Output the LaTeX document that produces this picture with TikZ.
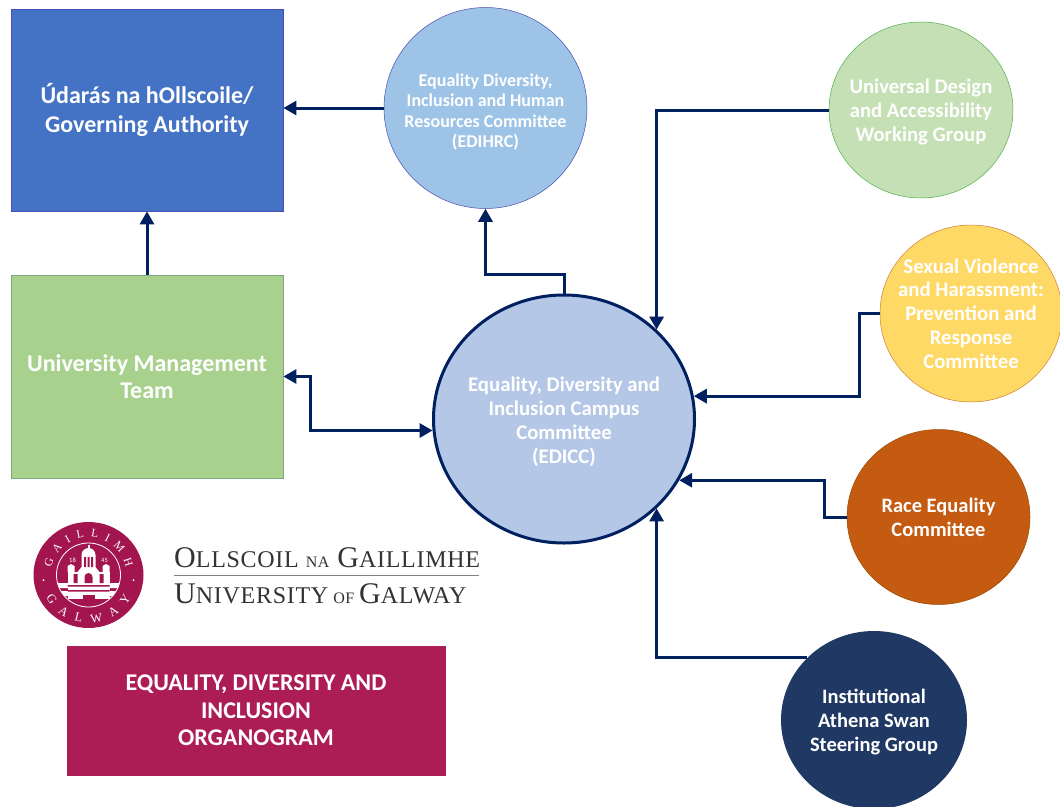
\documentclass[tikz,border=0pt]{standalone}
\usepackage{fontspec}
\setmainfont{Carlito}
\newfontfamily\logofont[LetterSpace=3]{Liberation Serif}
\newfontfamily\sealfont{Liberation Serif}
\usetikzlibrary{arrows.meta,decorations.text,shapes.geometric}
\definecolor{navy}{HTML}{002060}
\definecolor{crim}{HTML}{AD1D55}
\definecolor{logored}{HTML}{A3154F}
\newcommand{\fsz}[2]{\fontsize{#1}{#2}\selectfont}
\newcommand{\dn}[1]{\rule{0pt}{#1pt}}
\tikzset{
  box/.style={draw=#1,line width=0.8pt,inner sep=0pt,align=center,text=white},
  disc/.style={ellipse,inner sep=-45pt,align=center,text=white},
  conn/.style={draw=navy,line width=3pt,-{Triangle[length=13pt,width=14pt]}},
  connb/.style={draw=navy,line width=3pt,{Triangle[length=13pt,width=14pt]}-{Triangle[length=13pt,width=14pt]}},
  logoline/.style={text=black!80,font=\logofont,inner sep=0pt,anchor=base west}
}
\begin{document}
\begin{tikzpicture}[x=1pt,y=-1pt]
\clip (0,0) rectangle (1060,806);
\fill[white] (0,0) rectangle (1060,806);
\node[box=blue!60!black!70,fill={rgb,255:red,68;green,114;blue,196},minimum width=272pt,minimum height=202pt,font=\bfseries\fsz{24}{29}] (gov) at (147,110) {Údarás na hOllscoile/\\Governing Authority};
\node[box=green!30!black!50,fill={rgb,255:red,169;green,209;blue,142},minimum width=272pt,minimum height=203pt,font=\bfseries\fsz{24}{27}] (umt) at (147,376.5) {University Management\\Team};
\node[disc,draw=blue!40!gray,line width=0.5pt,fill={rgb,255:red,157;green,195;blue,230},minimum width=203pt,minimum height=201pt,font=\bfseries\fsz{18}{20.5}] (edihrc) at (485.5,108) {\dn{21}Equality Diversity,\\Inclusion and Human\\Resources Committee\\(EDIHRC)};
\node[disc,draw=green!40!gray,line width=0.5pt,fill={rgb,255:red,197;green,224;blue,180},minimum width=184pt,minimum height=176pt,font=\bfseries\fsz{20.7}{24}] (ud) at (921,110) {\dn{19}Universal Design\\and Accessibility\\Working Group};
\node[disc,draw=orange!60!gray,line width=0.5pt,fill={rgb,255:red,255;green,217;blue,102},minimum width=182pt,minimum height=177pt,font=\bfseries\fsz{20.8}{23.8}] (sv) at (971,313.5) {Sexual Violence\\and Harassment:\\Prevention and\\Response\\Committee};
\node[disc,draw=orange!60!black,line width=0.5pt,fill={rgb,255:red,197;green,90;blue,17},minimum width=183pt,minimum height=175pt,font=\bfseries\fsz{20.5}{24}] (race) at (938.5,517) {Race Equality\\Committee};
\node[disc,fill={rgb,255:red,31;green,56;blue,100},minimum width=186pt,minimum height=178pt,font=\bfseries\fsz{20.5}{24}] (athena) at (874,720) {\dn{19}Institutional\\Athena Swan\\Steering Group};
\node[disc,draw=navy,line width=3pt,fill={rgb,255:red,180;green,199;blue,231},minimum width=261pt,minimum height=248pt,font=\bfseries\fsz{20.8}{24}] (edicc) at (564,419) {\dn{20}Equality, Diversity and\\Inclusion Campus\\Committee\\(EDICC)};
\node[box=crim,fill=crim,minimum width=378pt,minimum height=129pt,font=\bfseries\fsz{24}{27.5}] (title) at (256,710.5) {EQUALITY, DIVERSITY AND\\INCLUSION\\ORGANOGRAM};
% connectors
\draw[conn] (edihrc.west) -- (edihrc.west -| gov.east);
\draw[conn] (umt.north) -- (gov.south);
\draw[connb] (umt.east) -- ++(27,0) |- (edicc.185.8);
\draw[conn] (edicc.north) -- ++(0,-19) -| (edihrc.south);
\draw[conn] (ud.west) -| (edicc.44);
\draw[conn] (sv.west) -- ++(-20,0) |- (edicc.10.5);
\draw[conn] (race.west) -- ++(-22,0) |- (edicc.-28.5);
\draw[conn] (athena.137) -| (edicc.-44);
% logo
\begin{scope}[shift={(88.5,575)},x=1pt,y=1pt]
\node[ellipse,fill=logored,minimum width=110pt,minimum height=106pt,inner sep=0pt] (seal) at (0,0) {};
\path[decorate,decoration={text along path,text align={fit to path},text color=white,text={|\sealfont\fontsize{11.5}{12}\selectfont|GAILLIMH}}] (168:38) arc[start angle=168,end angle=12,radius=38];
\path[decorate,decoration={text along path,text align={fit to path},text color=white,text={|\sealfont\fontsize{12.5}{13}\selectfont|GALWAY}}] (208:48) arc[start angle=208,end angle=332,radius=48];
\fill[white] (-45,-5) circle (1) (45,-5) circle (1);
\begin{scope}
\clip (0,0) circle (32);
\fill[white] (-40,-21) rectangle (40,-16) (-40,-13) rectangle (40,-8);
\end{scope}
\draw[white,line width=0.8pt] (0,0) circle (32);
% building
\fill[white] (-21,-24) rectangle (21,3);
\fill[white] (-21,3) -- (-21,9) -- (-17.5,11) -- (-14,9) -- (-14,3) -- cycle;
\fill[white] (21,3) -- (21,9) -- (17.5,11) -- (14,9) -- (14,3) -- cycle;
\fill[white] (-11,3) -- (-7,8) -- (-7,20) -- (7,20) -- (7,8) -- (11,3) -- cycle;
\fill[white] (-7,20) arc[start angle=180,end angle=0,radius=7] -- cycle;
\fill[white] (-1,26) rectangle (1,30);
\fill[logored] (-4.5,8) rectangle (-2.5,18) (-1,8) rectangle (1,18) (2.5,8) rectangle (4.5,18);
\fill[logored] (-15,-8) rectangle (-11,1) (11,-8) rectangle (15,1);
\fill[logored] (-4,-8) -- (-4,-2) arc[start angle=180,end angle=0,radius=4] -- (4,-8) -- cycle;
\fill[logored] (-21,-11.5) rectangle (21,-10) (-21,-16.5) rectangle (21,-15);
\fill[logored] (-6,-24) -- (-6,-20) -- (6,-20) -- (6,-24) -- cycle;
\node[text=white,font=\fontsize{6.5}{6.5}\selectfont,inner sep=0pt] (yra) at (-16,15) {18};
\node[text=white,font=\fontsize{6.5}{6.5}\selectfont,inner sep=0pt] (yrb) at (16,15) {45};
\end{scope}
\node[logoline] (ogl) at (174,567) {\fsz{30}{32}O\fsz{24}{32}LLSCOIL\hspace{7pt}\fsz{16}{32}NA\hspace{8pt}\fsz{30}{32}G\fsz{24}{32}AILLIMHE};
\node[logoline] (uni) at (174,603) {\fsz{30}{32}U\fsz{24}{32}NIVERSITY\hspace{5pt}\fsz{16}{32}OF\hspace{5pt}\fsz{30}{32}G\fsz{24}{32}ALWAY};
\coordinate (rulea) at (174,575.5);
\coordinate (ruleb) at (479,575.5);
\draw[gray,line width=1.2pt] (rulea) -- (ruleb);
\end{tikzpicture}
\end{document}
